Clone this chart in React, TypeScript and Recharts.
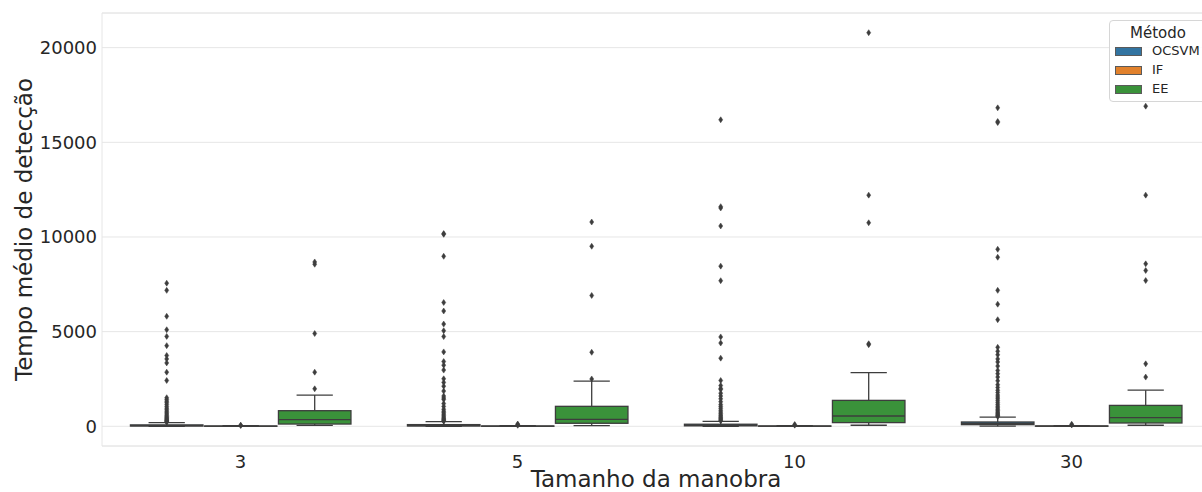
import React from 'react';
import { ComposedChart, Bar, XAxis, YAxis, CartesianGrid, ReferenceLine } from 'recharts';

// Categories on the x axis (maneuver size) and the hue groups (method)
const categories = ['3', '5', '10', '30'];
const methods = ['OCSVM', 'IF', 'EE'];
const methodColors = ['#3274a1', '#e1812c', '#3a923a'];
const yTicks = [0, 5000, 10000, 15000, 20000];
const Y_MIN = -1040;
const Y_MAX = 21830;

// OCSVM box statistics, one value per category
const ocsvmLow = [2, 3, 4, 5];
const ocsvmQ1 = [15, 18, 25, 88];
const ocsvmMedian = [35, 40, 55, 150];
const ocsvmQ3 = [75, 90, 110, 228];
const ocsvmHigh = [190, 245, 260, 480];
const ocsvmOutliers = [
  [220, 250, 280, 310, 340, 380, 420, 470, 520, 580, 650, 720, 800, 880, 960, 1050, 1150, 1250, 1330, 1420, 1510, 2420, 2860, 3350, 3560, 3740, 4260, 4750, 5100, 5810, 7180, 7560],
  [270, 300, 340, 380, 430, 490, 560, 640, 720, 800, 900, 1050, 1200, 1420, 1500, 1600, 1860, 2120, 2320, 2510, 2970, 3230, 3420, 3930, 4740, 5050, 5400, 6090, 6540, 8980, 10140, 10180],
  [290, 330, 380, 430, 480, 540, 600, 680, 760, 850, 950, 1050, 1150, 1300, 1450, 1600, 1750, 1950, 2000, 2150, 2420, 3600, 4400, 4720, 7690, 8460, 10580, 11530, 11600, 16190],
  [520, 560, 600, 650, 700, 760, 830, 900, 980, 1060, 1150, 1250, 1350, 1450, 1550, 1650, 1780, 1900, 2050, 2200, 2400, 2600, 2780, 2950, 3180, 3400, 3560, 3780, 3960, 4170, 5630, 6450, 7180, 8930, 9350, 16040, 16100, 16820],
];

// IF box statistics
const ifLow = [0, 0, 0, 0];
const ifQ1 = [3, 3, 4, 5];
const ifMedian = [8, 8, 9, 10];
const ifQ3 = [15, 16, 18, 20];
const ifHigh = [30, 32, 36, 40];
const ifOutliers = [
  [45, 60],
  [55, 90, 120],
  [60, 95],
  [70, 110],
];

// EE box statistics
const eeLow = [50, 35, 55, 55];
const eeQ1 = [120, 160, 195, 175];
const eeMedian = [350, 370, 545, 455];
const eeQ3 = [825, 1055, 1370, 1105];
const eeHigh = [1650, 2390, 2840, 1910];
const eeOutliers = [
  [1980, 2860, 4900, 8560, 8680],
  [2500, 3910, 6910, 9510, 10790],
  [4310, 4360, 10750, 12210, 20790],
  [2600, 3300, 7700, 8230, 8580, 12210, 16910],
];

type Stats = { low: number[]; q1: number[]; median: number[]; q3: number[]; high: number[]; outliers: number[][] };

const boxStats: Record<string, Stats> = {
  OCSVM: { low: ocsvmLow, q1: ocsvmQ1, median: ocsvmMedian, q3: ocsvmQ3, high: ocsvmHigh, outliers: ocsvmOutliers },
  IF: { low: ifLow, q1: ifQ1, median: ifMedian, q3: ifQ3, high: ifHigh, outliers: ifOutliers },
  EE: { low: eeLow, q1: eeQ1, median: eeMedian, q3: eeQ3, high: eeHigh, outliers: eeOutliers },
};

// One row per category; each method's bar spans its interquartile range
const rows = categories.map((cat, idx) => {
  const row: Record<string, any> = { cat, idx };
  methods.forEach((m) => {
    row[m] = [boxStats[m].q1[idx], boxStats[m].q3[idx]];
  });
  return row;
});

const FONT = '"DejaVu Sans", sans-serif';
const TEXT = '#262626';
const GRAY = '#3d3d3d';
const GRID = '#e6e6e6';
const LW = 1.3;

function BoxShape(props: any) {
  const { x, y, width, height, background, payload, method, color } = props;
  const s = boxStats[method];
  const i = payload.idx;
  const q1 = s.q1[i];
  const q3 = s.q3[i];
  // value -> pixel, using the plot column the library hands to each bar
  const toY = (v: number) => {
    if (background && background.height > 0) {
      return background.y + ((Y_MAX - v) / (Y_MAX - Y_MIN)) * background.height;
    }
    return y + (q3 - v) * (height / (q3 - q1));
  };
  const bw = width * 0.98;
  const bx = x + width * 0.01;
  const cx = x + width / 2;
  const yQ1 = toY(q1);
  const yQ3 = toY(q3);
  const yMed = toY(s.median[i]);
  const yLo = toY(s.low[i]);
  const yHi = toY(s.high[i]);
  const cap = bw / 4;
  return (
    <g>
      <line x1={cx} x2={cx} y1={yQ3} y2={yHi} stroke={GRAY} strokeWidth={LW} />
      <line x1={cx} x2={cx} y1={yQ1} y2={yLo} stroke={GRAY} strokeWidth={LW} />
      <line x1={cx - cap} x2={cx + cap} y1={yHi} y2={yHi} stroke={GRAY} strokeWidth={LW} />
      <line x1={cx - cap} x2={cx + cap} y1={yLo} y2={yLo} stroke={GRAY} strokeWidth={LW} />
      <rect x={bx} y={yQ3} width={bw} height={Math.max(yQ1 - yQ3, 0)} fill={color} stroke={GRAY} strokeWidth={LW} />
      <line x1={bx} x2={bx + bw} y1={yMed} y2={yMed} stroke={GRAY} strokeWidth={LW} />
      {s.outliers[i].map((v, k) => {
        const py = toY(v);
        return (
          <polygon
            key={k}
            points={`${cx},${py - 3} ${cx + 2},${py} ${cx},${py + 3} ${cx - 2},${py}`}
            fill={GRAY}
            stroke={GRAY}
            strokeWidth={0.5}
          />
        );
      })}
    </g>
  );
}

function YTitle(props: any) {
  const vb = props.viewBox || {};
  const cy = (vb.y ?? 13) + (vb.height ?? 433) / 2;
  return (
    <text
      x={24}
      y={cy}
      transform={`rotate(-90, 24, ${cy})`}
      textAnchor="middle"
      dominantBaseline="central"
      fontFamily={FONT}
      fontSize={23}
      fill={TEXT}
    >
      Tempo médio de detecção
    </text>
  );
}

function XTitle(props: any) {
  const vb = props.viewBox || {};
  const cx = (vb.x ?? 102) + (vb.width ?? 1108) / 2;
  return (
    <text x={cx} y={487} textAnchor="middle" fontFamily={FONT} fontSize={23} fill={TEXT}>
      Tamanho da manobra
    </text>
  );
}

function LegendBox() {
  return (
    <div
      style={{
        position: 'absolute',
        left: 1109,
        top: 20,
        width: 110,
        height: 82,
        background: 'rgba(255,255,255,0.85)',
        border: '1px solid #d6d6d6',
        borderRadius: 4,
        boxSizing: 'border-box',
        fontFamily: FONT,
        color: TEXT,
      }}
    >
      <div style={{ position: 'absolute', left: 0, top: 2, width: 96, textAlign: 'center', fontSize: 15, lineHeight: '20px' }}>
        Método
      </div>
      {methods.map((m, k) => (
        <div key={m} style={{ position: 'absolute', left: 0, top: 23 + k * 19.2, height: 14, width: 110 }}>
          <div
            style={{
              position: 'absolute',
              left: 5,
              top: 2.5,
              width: 27,
              height: 9,
              background: methodColors[k],
              border: '0.8px solid #5a5a5a',
              boxSizing: 'border-box',
            }}
          />
          <div style={{ position: 'absolute', left: 42, top: 0, fontSize: 13, lineHeight: '14px', whiteSpace: 'nowrap' }}>{m}</div>
        </div>
      ))}
    </div>
  );
}

export default function App() {
  return (
    <div style={{ position: 'fixed', left: 0, top: 0, width: 1202, height: 492, overflow: 'hidden', background: '#fff' }}>
      <ComposedChart
        width={1230}
        height={492}
        data={rows}
        margin={{ top: 13, right: 20, bottom: 0, left: 0 }}
        barCategoryGap="10%"
        barGap={0}
      >
        <CartesianGrid horizontal vertical={false} stroke={GRID} strokeWidth={1} />
        <ReferenceLine y={Y_MAX} stroke={GRID} strokeWidth={1} />
        <XAxis
          dataKey="cat"
          type="category"
          height={46}
          tickLine={false}
          axisLine={{ stroke: GRID }}
          tickSize={7}
          tickMargin={2}
          tick={{ fontFamily: FONT, fontSize: 18, fill: TEXT }}
          label={<XTitle />}
        />
        <YAxis
          type="number"
          domain={[Y_MIN, Y_MAX]}
          allowDataOverflow
          ticks={yTicks}
          width={102}
          tickLine={false}
          axisLine={{ stroke: GRID }}
          tickSize={5}
          tickMargin={0}
          tick={{ fontFamily: FONT, fontSize: 18, fill: TEXT }}
          label={<YTitle />}
        />
        {methods.map((m, k) => (
          <Bar
            key={m}
            dataKey={m}
            isAnimationActive={false}
            fill={methodColors[k]}
            shape={(p: any) => <BoxShape {...p} method={m} color={methodColors[k]} />}
          />
        ))}
      </ComposedChart>
      <LegendBox />
    </div>
  );
}
